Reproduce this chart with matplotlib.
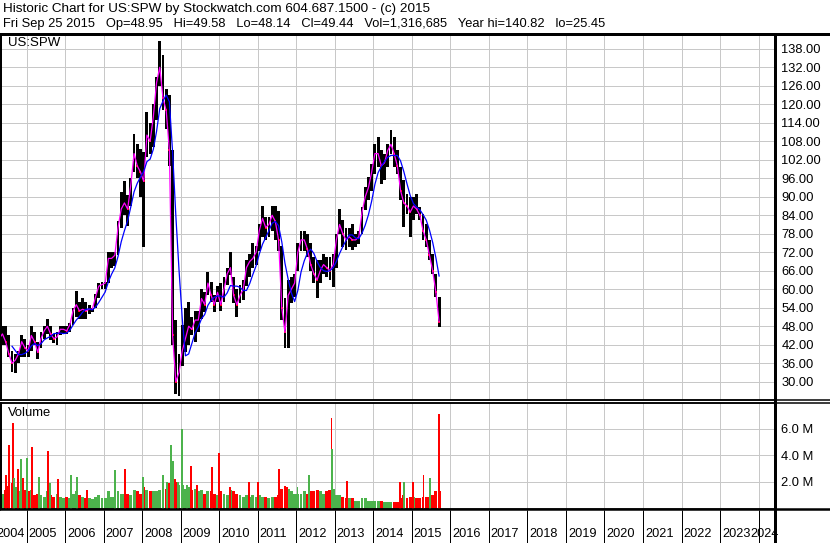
import numpy as np
import pandas as pd
import matplotlib
matplotlib.use("Agg")
import matplotlib.pyplot as plt
from matplotlib.lines import Line2D

W, H, DPI = 830, 543, 100

# monthly bars Apr 2004 .. Sep 2015
first_month = "2004-04"
high = [47, 48, 48, 45, 40, 39, 40, 45, 44,
        42, 48, 46, 43, 46, 48, 50.5, 48, 45.6, 46, 48, 48,
        48, 49, 54, 59.5, 56, 57, 56, 55, 54, 58.5, 62, 62.5,
        62.5, 72, 72, 72, 82, 91.5, 95, 90.5, 96, 110.5, 107, 105.5,
        104.5, 117.5, 114, 120, 129, 140.6, 136, 125, 123, 105, 50, 39,
        48.5, 54, 56, 51, 53, 53, 60, 59, 65.5, 62.5, 58, 61,
        62, 64, 67, 72, 64, 60, 61.5, 63, 69.5, 71.5, 75, 74,
        81, 87, 83.5, 83.5, 87, 87, 85.5, 74, 57, 63, 64, 65,
        75, 79, 79, 78, 75, 70.5, 69.5, 69.5, 71.5, 70.5, 70.5, 71.5,
        78, 86, 82.3, 80, 80, 81.3, 78, 79, 86.7, 93, 96.4, 100.7,
        107, 109.3, 105, 104, 107, 111.5, 109.3, 105, 99.6, 95.3, 91, 90,
        90, 91, 86.7, 84.5, 81.3, 76, 71.5, 65, 57.5]
low = [41, 42, 42, 38, 33, 32.7, 36, 38, 38,
       38, 40, 42, 37.5, 41, 44, 45.5, 43.5, 42.4, 42, 45, 45.5,
       45.6, 46, 48.5, 51, 50.5, 50.5, 50.5, 52, 52.5, 54, 57, 60,
       60, 62, 67, 67.5, 71, 80, 84, 80.5, 87, 98, 96, 90,
       73.7, 103, 104, 106, 115, 126, 118, 112, 100, 42, 26, 25.5,
       35, 39.5, 42, 45, 43, 46, 50.5, 52.5, 58, 56, 52.5, 56,
       53, 56, 61.5, 64.5, 55.5, 51, 55.5, 56.5, 61, 64, 67, 68,
       72.5, 77, 76, 77, 79, 76, 72.5, 50, 41, 41, 55.5, 57.5,
       66, 72.5, 72.5, 70.5, 66, 62, 57, 62, 65, 64, 63, 60.8,
       67, 78, 73.7, 72.6, 73.7, 72.6, 73.7, 74.8, 78, 85.6, 88.8, 92,
       97.5, 99.6, 94, 95.3, 99.6, 104, 99.6, 97.5, 88.8, 80.2, 84.5, 77,
       82.3, 84.5, 82.3, 76, 73.7, 69.4, 65, 57.5, 47.8]
close = [44, 45.5, 43, 39, 36, 37, 39, 43, 41,
         40, 45, 43, 39.5, 44, 46.5, 48, 45.5, 44, 44.5, 47, 47,
         46.5, 48.5, 53, 55, 53, 53.5, 53, 53.5, 53.5, 57.5, 61, 61.5,
         62, 70, 70, 71, 80, 86, 88, 86, 94, 104, 100, 98,
         95, 110, 108, 116, 127, 132, 122, 118, 105, 45, 30, 33,
         40, 44, 48, 47, 50, 50, 57, 55, 62, 58, 55, 59,
         55, 60, 65, 67, 58, 55, 58, 60, 67, 69, 70, 72,
         79, 83, 80, 81, 84, 82, 76, 54, 46, 58, 60, 62,
         72, 76, 76, 73, 68, 65, 63, 66, 68, 67, 66, 68,
         76, 81, 78, 76, 77, 76, 76, 77, 85, 90, 93, 98,
         104, 104, 100, 101, 105, 107, 104, 100, 92, 88, 87, 85,
         87, 86, 84, 79, 76, 71, 66, 59, 49.44]
# typical monthly volume level, millions
vol_base = [1.2, 1.1, 1.4, 1.7, 1.9, 1.6, 1.3, 1.6, 1.4,
            1.3, 1.4, 1.0, 1.1, 1.0, 0.9, 1.3, 1.0, 0.9, 1.1, 0.9, 0.8,
            0.9, 0.8, 1.1, 1.3, 1.0, 0.9, 0.8, 0.8, 0.7, 0.9, 1.0, 0.8,
            0.8, 1.3, 0.9, 0.9, 1.3, 1.1, 1.1, 1.1, 1.0, 1.4, 1.3, 1.1,
            1.6, 1.4, 1.3, 1.3, 1.3, 1.4, 1.6, 1.5, 1.9, 2.2, 2.0, 1.8,
            1.8, 1.5, 1.6, 1.4, 1.5, 1.3, 1.4, 1.1, 1.3, 1.3, 1.1, 1.0,
            1.3, 1.1, 1.0, 1.4, 1.3, 1.1, 1.0, 0.9, 1.0, 0.9, 1.0, 0.9,
            1.0, 0.9, 0.9, 0.8, 0.9, 0.9, 1.0, 1.5, 1.7, 1.5, 1.3, 1.1,
            1.1, 1.1, 1.3, 1.1, 1.3, 1.3, 1.4, 1.3, 1.1, 1.3, 1.4, 1.5,
            1.0, 1.0, 0.9, 0.8, 0.8, 0.8, 0.6, 0.6, 0.8, 0.8, 0.6, 0.6,
            0.6, 0.6, 0.6, 0.5, 0.5, 0.5, 0.5, 0.5, 0.8, 1.0, 0.8, 0.9,
            0.9, 0.8, 0.8, 0.9, 0.9, 0.9, 1.0, 1.3, 1.3]
# single heavy-volume days (year fraction, millions, up day?)
spike_t = [2004.468, 2004.554, 2004.658, 2004.672, 2004.788, 2004.849, 2004.901,
           2005.022, 2005.134, 2005.333, 2005.567, 2005.610, 2005.809,
           2006.146, 2006.302, 2006.562, 2007.297, 2007.556,
           2008.032, 2008.551, 2008.638, 2008.742, 2008.810, 2008.854, 2008.940,
           2009.028, 2009.158, 2009.261, 2009.417, 2009.806,
           2010.004, 2010.282, 2010.783, 2011.000, 2011.561, 2011.753,
           2012.030, 2012.340, 2012.917, 2012.926, 2013.310,
           2014.694, 2014.800, 2015.040, 2015.300, 2015.470, 2015.714]
spike_vol = [2.5, 4.8, 6.4, 2.3, 3.0, 3.7, 2.3,
             3.8, 4.6, 2.4, 4.3, 1.9, 2.2,
             2.5, 2.4, 1.4, 2.9, 3.0,
             2.4, 2.5, 2.0, 4.8, 3.6, 2.2, 2.0,
             6.0, 1.8, 3.2, 1.8, 3.1,
             4.2, 1.6, 2.0, 2.0, 3.0, 1.6,
             1.6, 2.5, 6.8, 4.5, 2.1,
             2.0, 2.0, 2.0, 2.5, 2.3, 7.1]
spike_up = [0, 0, 0, 1, 0, 1, 0,
            1, 0, 1, 0, 1, 0,
            1, 1, 0, 1, 0,
            1, 1, 1, 1, 1, 0, 1,
            1, 1, 0, 0, 0,
            0, 0, 0, 0, 0, 0,
            1, 1, 0, 1, 0,
            0, 1, 0, 0, 1, 0]
years = list(range(2004, 2025))
price_ticks = list(range(30, 139, 6))
vol_ticks = [2, 4, 6]

RED, GREEN = "#ff0000", "#4cb34c"
GRID = "#c8c8c8"


def fx(px):
    return px / W


def fy(py):
    return 1 - py / H


def lw(px):
    return px * 72 / DPI


months = pd.period_range(first_month, periods=len(close), freq="M")
t = np.array(months.year + (months.month - 0.5) / 12)
high, low, close = np.array(high), np.array(low), np.array(close)
down = np.r_[False, close[1:] < close[:-1]]
blue = pd.Series(close).rolling(5).mean()

x0, x1 = 2004.325, 2024.426

plt.rcParams["font.family"] = ["Liberation Sans", "DejaVu Sans"]
fig = plt.figure(figsize=(W / DPI, H / DPI), dpi=DPI)

# price panel
ax = fig.add_axes([fx(0.5), fy(400), fx(775) - fx(0.5), fy(33.5) - fy(400)])
ax.bar(t, high - low, bottom=low, width=0.074, color="black", linewidth=0, zorder=2)
ax.plot(t[down], close[down], ls="none", marker="s", ms=1.6, mew=0, color=RED, zorder=3)
ax.plot(t, close, color="#ff00ff", lw=0.9, zorder=4)
ax.plot(t, blue, color="#0000ff", lw=0.9, zorder=4)
ax.set_xlim(x0, x1)
ax.set_ylim(24.07, 142.95)
ax.set_yticks(price_ticks)
ax.set_yticklabels(["%.2f" % v for v in price_ticks])
ax.yaxis.tick_right()
ax.tick_params(axis="y", length=0, pad=4.5, labelsize=9.3)
ax.set_xticks(years[1:])
ax.tick_params(axis="x", length=0, labelbottom=False)
ax.grid(True, color=GRID, lw=lw(1))
ax.set_axisbelow(True)
for side, w in (("top", 3), ("right", 3), ("left", 2), ("bottom", 1.5)):
    ax.spines[side].set_linewidth(lw(w))

# volume panel
av = fig.add_axes([fx(0.5), fy(508.5), fx(775) - fx(0.5), fy(402.5) - fy(508.5)])
av.bar(t, vol_base, width=0.075, color=[RED if d else GREEN for d in down], linewidth=0, zorder=2)
av.bar(spike_t, spike_vol, width=0.045,
       color=[GREEN if u else RED for u in spike_up], linewidth=0, zorder=3)
av.set_xlim(x0, x1)
av.set_ylim(0, 7.96)
av.set_yticks(vol_ticks)
av.set_yticklabels(["%.1f M" % v for v in vol_ticks])
av.yaxis.tick_right()
av.tick_params(axis="y", length=0, pad=4, labelsize=9.3)
av.set_xticks(years[1:])
av.tick_params(axis="x", length=0, labelbottom=False)
av.grid(True, color=GRID, lw=lw(1))
av.set_axisbelow(True)
for side, w in (("top", 1.5), ("right", 3), ("left", 2), ("bottom", 2.5)):
    av.spines[side].set_linewidth(lw(w))

# year strip
ay = fig.add_axes([fx(0.5), 0, fx(775) - fx(0.5), fy(510)])
ay.set_xlim(x0, x1)
ay.set_ylim(0, 1)
ay.vlines(years[1:], 0, 1, color="black", lw=lw(1))
for s in ("top", "bottom", "left"):
    ay.spines[s].set_visible(False)
ay.spines["right"].set_linewidth(lw(3))
ay.set_xticks([])
ay.set_yticks([])
pxyr = (775 - 0.5) / (x1 - x0)
for y in years:
    if y == years[0]:
        ay.text(y + 1 - 1.5 / pxyr, 0.27, str(y), ha="right", va="center", fontsize=9.2, zorder=1)
    elif y == years[-1]:
        ay.text(x1 + 3.5 / pxyr, 0.27, str(y), ha="right", va="center", fontsize=9.2, zorder=1)
    else:
        ay.text(y + 2 / pxyr, 0.27, str(y), ha="left", va="center", fontsize=9.2, zorder=1)

# frame lines running across the label column
for py, w in ((33.5, 3), (400, 1.5), (402.5, 1.5), (508.5, 2.5)):
    fig.add_artist(Line2D([0, 1], [fy(py), fy(py)], color="black", lw=lw(w)))

# header and panel labels
fig.text(fx(3), fy(9), "Historic Chart for US:SPW by Stockwatch.com 604.687.1500 - (c) 2015",
         va="center", fontsize=9.7)
fig.text(fx(3), fy(24),
         "Fri Sep 25 2015   Op=48.95   Hi=49.58   Lo=48.14   Cl=49.44   "
         "Vol=1,316,685   Year hi=140.82   lo=25.45", va="center", fontsize=9.3)
fig.text(fx(8), fy(42.5), "US:SPW", va="center", fontsize=9.5)
fig.text(fx(8), fy(413), "Volume", va="center", fontsize=9.4)

fig.savefig("out.png", dpi=DPI)
